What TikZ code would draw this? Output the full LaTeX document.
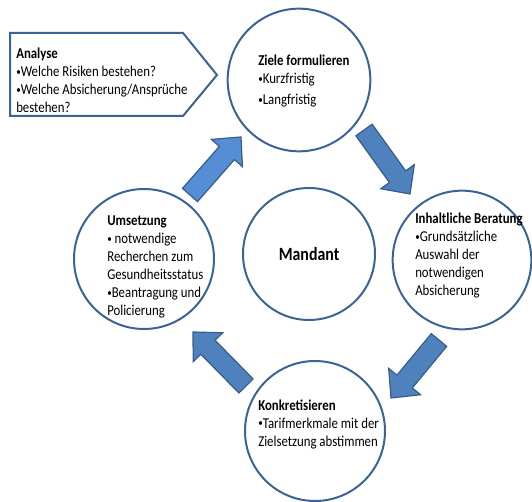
\documentclass[tikz,border=0pt]{standalone}
\usepackage{fontspec}
\setmainfont{Carlito}[FakeStretch=0.85]
\usepackage{tikz}
\usetikzlibrary{calc}

\definecolor{rimblue}{HTML}{3B6495}
\definecolor{arrfill}{HTML}{4F81BD}
\definecolor{arrlight}{HTML}{558ED5}
\definecolor{arrrim}{HTML}{385D8A}
\newcommand{\blt}{\raisebox{0.8pt}{\fontsize{8}{8}\selectfont•}}

\begin{document}
\begin{tikzpicture}[x=0.75pt, y=-0.75pt,
    phase/.style={circle, draw=rimblue, line width=1.5pt, fill=white, minimum size=105pt, inner sep=0pt},
    txt/.style={anchor=west, align=left, inner sep=0pt, font=\fontsize{11.3}{13.5}\selectfont},
    blockarr/.style={draw=arrrim, line width=0.9pt, fill=arrfill, line join=miter}]
  \useasboundingbox (0,0) rectangle (532,502);

  % Analyse box
  \draw[rimblue, line width=1.5pt, fill=white] (10,33) -- (183,33) -- (217,75) -- (183,116) -- (10,116) -- cycle;
  \node[txt] (analyse) at (16,80) {\textbf{Analyse}\\ \blt Welche Risiken bestehen?\\ \blt Welche Absicherung/Ansprüche\\ bestehen?};

  % the five circles
  \node[phase, minimum size=107pt] (ziele) at (299,80) {};
  \node[phase, minimum size=99pt] (mandant) at (309,254) {};
  \node[phase] (umsetzung) at (144,259) {};
  \node[phase, minimum size=104pt] (beratung) at (462,260) {};
  \node[phase] (konkret) at (315,431) {};

  \node[txt] (ziele-txt) at (258,81) {\textbf{Ziele formulieren}\\ \blt Kurzfristig\\[2pt] \blt Langfristig};
  \node[font=\fontsize{14}{17}\selectfont\bfseries] (mandant-txt) at (mandant) {Mandant};
  \node[txt] (umsetzung-txt) at (107,267) {\textbf{Umsetzung}\\ \blt{} notwendige\\ Recherchen zum\\ Gesundheitsstatus\\ \blt Beantragung und\\ Policierung};
  \node[txt] (beratung-txt) at (415,256) {\textbf{Inhaltliche Beratung}\\ \blt Grundsätzliche\\ Auswahl der\\ notwendigen\\ Absicherung};
  \node[txt] (konkret-txt) at (258,424) {\textbf{Konkretisieren}\\ \blt Tarifmerkmale mit der\\ Zielsetzung abstimmen};

  % block arrows between the circles
  \coordinate (a1s) at (190,195);  \coordinate (a1e) at (241,137);
  \coordinate (a2s) at (364,130);  \coordinate (a2e) at (410,194);
  \coordinate (a3s) at (439,340);  \coordinate (a3e) at (391,398);
  \coordinate (a4s) at (246,386);  \coordinate (a4e) at (193,332);
  \foreach \s/\e/\c in {a1s/a1e/arrlight, a2s/a2e/arrfill, a3s/a3e/arrfill, a4s/a4e/arrfill}{
    \path ($(\e)!16pt!(\s)$) coordinate (hb);
    \draw[blockarr, fill=\c] ($(\s)!7.5pt!90:(\e)$) -- ($(hb)!7.5pt!90:(\e)$) -- ($(hb)!15.5pt!90:(\e)$) -- (\e)
      -- ($(hb)!15.5pt!-90:(\e)$) -- ($(hb)!7.5pt!-90:(\e)$) -- ($(\s)!7.5pt!-90:(\e)$) -- cycle;
  }
\end{tikzpicture}
\end{document}
